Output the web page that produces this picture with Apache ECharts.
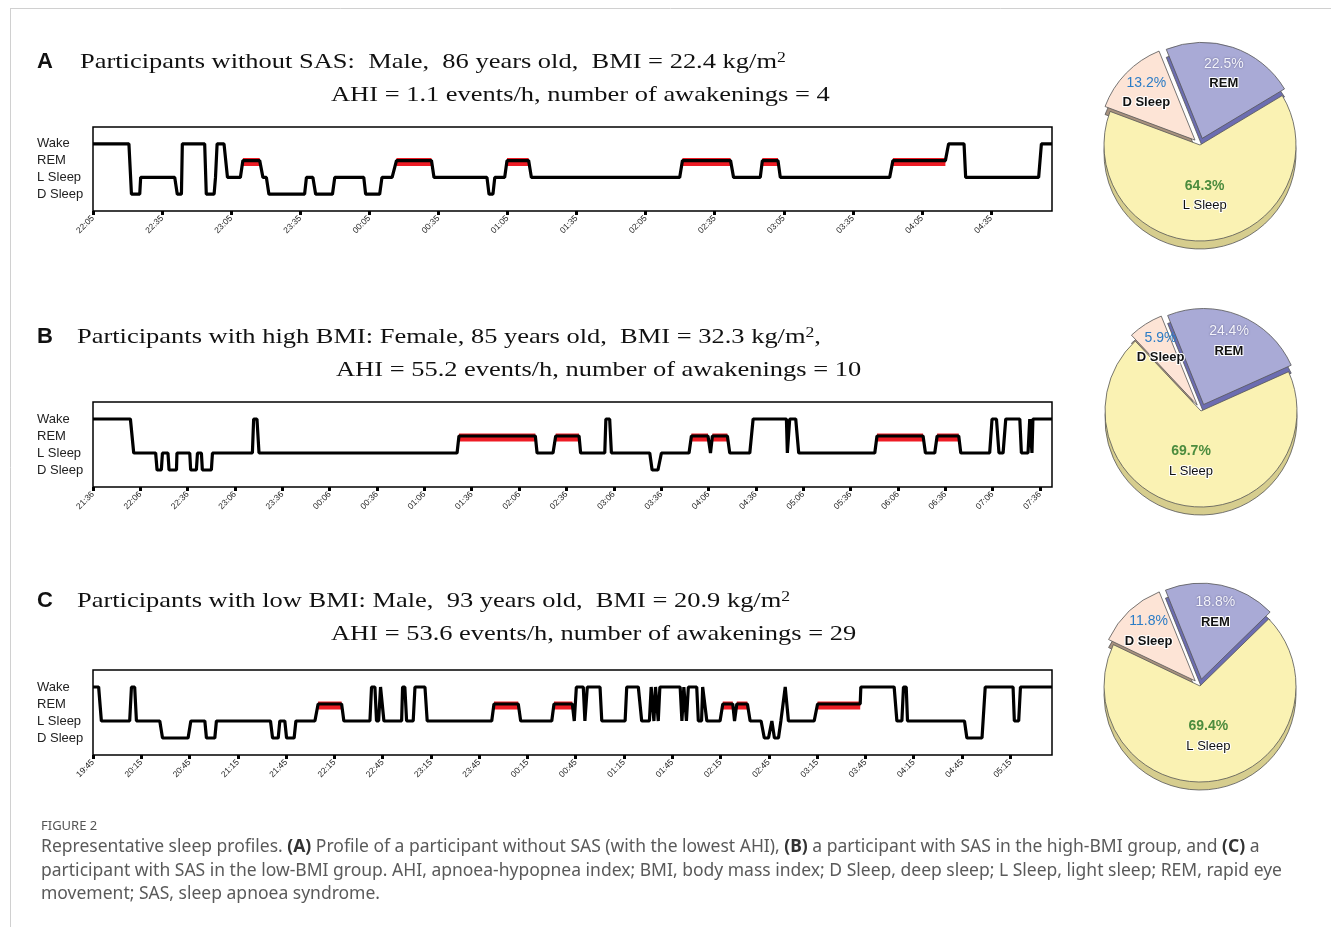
<!DOCTYPE html>
<html><head><meta charset="utf-8">
<script src="https://cdn.jsdelivr.net/npm/echarts@6/dist/echarts.min.js"></script>
<style>html,body{margin:0;padding:0;background:#fff}#c{width:1331px;height:927px}</style>
</head><body><div id="c"></div>
<script>
// ---------- DATA ----------
const stageNames = ['D Sleep', 'L Sleep', 'REM', 'Wake']; // 0,1,2,3

// Hypnograms: [minutes from first tick, stage]
const hypA = [[0,3],[15.6,3],[16.7,0],[20.3,0],[20.7,1],[35.5,1],[36.6,0],[38.4,0],[38.8,3],[48.5,3],[49.2,0],[52.6,0],[53.2,1],[53.9,3],[56.9,3],[58.4,1],[64,1],[65.1,2],[72.4,2],[73.8,1],[75.3,1],[76.4,0],[91.9,0],[92.7,1],[95.5,1],[96.7,0],[104,0],[105,1],[117.6,1],[118.4,0],[124.5,0],[125.5,1],[129.9,1],[131.8,2],[147,2],[148.1,1],[171.1,1],[172,0],[173.7,0],[174.5,1],[178.8,1],[179.8,2],[189.2,2],[190.4,1],[254.8,1],[256,2],[276.9,2],[278.2,1],[289.8,1],[290.7,2],[297.5,2],[298.5,1],[346,1],[347.4,2],[370.2,2],[371.6,3],[378.3,3],[379,1],[410.7,1],[411.9,3],[416.5,3]];
const hypB = [[0,3],[23.7,3],[25.8,1],[39.7,1],[40.6,0],[43.3,0],[44,1],[47.5,1],[48.2,0],[52.9,0],[53.2,1],[61.3,1],[61.9,0],[65.5,0],[66.2,1],[68.7,1],[69.3,0],[75,0],[75.7,1],[101,1],[101.8,3],[103.9,3],[105.2,1],[230.7,1],[231.9,2],[280.3,2],[281.4,1],[291.5,1],[293.2,2],[308,2],[309,1],[324.3,1],[325,3],[327.4,3],[328.5,1],[352.8,1],[354.3,0],[358,0],[360.2,1],[377.7,1],[379.2,2],[389.7,2],[391.3,1],[392.5,2],[402,2],[403.5,1],[416.2,1],[418.3,3],[439.4,3],[440,1],[441.5,3],[445.3,3],[447.2,1],[495.4,1],[496.8,2],[526,2],[527.5,1],[533.4,1],[534.9,2],[548.6,2],[549.9,1],[568.2,1],[569.7,3],[572.5,3],[574.1,1],[576.7,1],[578.4,3],[587.3,3],[588.3,1],[592.5,1],[593.6,3],[594.4,3],[595,1],[595.6,3],[607.7,3]];
const hypC = [[0,3],[3.5,3],[5.2,1],[22.8,1],[23.9,3],[25.9,3],[27,1],[41.5,1],[43.2,0],[59.1,0],[60.8,1],[69.5,1],[70.5,0],[75.7,0],[76.7,1],[110.3,1],[111.6,0],[115.1,0],[116.1,1],[119.2,1],[120.3,0],[125,0],[126.1,1],[137.9,1],[139.9,2],[154.5,2],[155.9,1],[172.1,1],[173.1,3],[175.2,3],[176.2,1],[177.5,1],[178.7,3],[179.7,3],[180.8,1],[191.8,1],[192.4,3],[193.8,3],[194.9,1],[199,1],[200.1,3],[206.3,3],[207.7,1],[247.8,1],[249.2,2],[264.3,2],[265.8,1],[285.1,1],[286.5,2],[297.9,2],[299.1,1],[300.4,3],[304.7,3],[305.7,1],[307.2,3],[315.1,3],[316.2,1],[330.7,1],[331.7,3],[338.9,3],[341,1],[345.8,1],[346.9,3],[347.6,3],[348.6,1],[349.6,3],[350.3,3],[351.3,1],[352.3,3],[364.9,3],[366,1],[367.2,3],[367.8,3],[368.8,1],[370,3],[375.2,3],[376.2,1],[378.2,1],[378.9,3],[379.8,3],[381.5,1],[389.7,1],[391.4,2],[397.6,2],[398.7,1],[400.1,2],[406.7,2],[408.4,1],[415.2,1],[417.2,0],[419.8,0],[421.9,1],[423.5,0],[426,0],[427.5,1],[430.2,3],[431.2,3],[432.2,1],[448.2,1],[450.3,2],[476.8,2],[477.2,3],[497.9,3],[499.6,1],[502.7,1],[503.7,3],[505.4,3],[506.2,1],[541.6,1],[543.1,0],[552.5,0],[554.5,3],[571.8,3],[572.6,1],[575.3,1],[576.4,3],[596,3]];

// Recording end (minutes) = right edge of each plot
const endA = 416.5, endB = 607.7, endC = 596;

// Tick labels (every 30 min)
const ticksA = ['22:05','22:35','23:05','23:35','00:05','00:35','01:05','01:35','02:05','02:35','03:05','03:35','04:05','04:35'];
const ticksB = ['21:36','22:06','22:36','23:06','23:36','00:06','00:36','01:06','01:36','02:06','02:36','03:06','03:36','04:06','04:36','05:06','05:36','06:06','06:36','07:06','07:36'];
const ticksC = ['19:45','20:15','20:45','21:15','21:45','22:15','22:45','23:15','23:45','00:15','00:45','01:15','01:45','02:15','02:45','03:15','03:45','04:15','04:45','05:15'];

// Pie values (%), order: REM, L Sleep, D Sleep
const pieNames = ['REM', 'L Sleep', 'D Sleep'];
const pieA = [22.5, 64.3, 13.2];
const pieB = [24.4, 69.7, 5.9];
const pieC = [18.8, 69.4, 11.8];

// Titles
const titleA1 = 'Participants without SAS:  Male,  86 years old,  BMI = 22.4 kg/m';
const titleA2 = 'AHI = 1.1 events/h, number of awakenings = 4';
const titleB1 = 'Participants with high BMI: Female, 85 years old,  BMI = 32.3 kg/m';
const titleB2 = 'AHI = 55.2 events/h, number of awakenings = 10';
const titleC1 = 'Participants with low BMI: Male,  93 years old,  BMI = 20.9 kg/m';
const titleC2 = 'AHI = 53.6 events/h, number of awakenings = 29';

// ---------- CHART ----------
const chart = echarts.init(document.getElementById('c'), null, {renderer: 'canvas', width: 1331, height: 927});

const grids = [
  {left: 93, top: 127, width: 959, height: 84},
  {left: 93, top: 402, width: 959, height: 85},
  {left: 93, top: 670, width: 959, height: 85}
].map(g => Object.assign(g, {show: true, borderColor: '#000', borderWidth: 1.5, backgroundColor: '#fff'}));

function xAx(i, ticks, end) {
  const vals = ticks.map((_, k) => k * 30);
  return {
    type: 'value', gridIndex: i, min: 0, max: end, interval: 30, position: 'bottom',
    axisLine: {show: false, onZero: false}, splitLine: {show: false},
    axisTick: {show: true, customValues: vals, length: 4, lineStyle: {color: '#000', width: 3}},
    axisLabel: {customValues: vals, formatter: v => ticks[Math.round(v / 30)] || '', rotate: 45,
      fontSize: 8.5, color: '#222', margin: 6, fontFamily: 'Liberation Sans'}
  };
}
function yAx(i) {
  return {
    type: 'value', gridIndex: i, min: -1, max: 4, interval: 1,
    axisLine: {show: false, onZero: false}, axisTick: {show: false}, splitLine: {show: false},
    axisLabel: {customValues: [0, 1, 2, 3], formatter: v => stageNames[v], align: 'left', margin: 56,
      fontSize: 13, color: '#222', fontFamily: 'Liberation Sans', padding: [5, 0, 0, 0]}
  };
}
function hypSeries(i, data) {
  return [
    {type: 'line', xAxisIndex: i, yAxisIndex: i, data: data.map(p => p[1] === 2 ? p : [p[0], '-']),
      symbol: 'none', z: 2, silent: true, connectNulls: false,
      lineStyle: {color: '#ee1c25', width: 5, shadowColor: '#ee1c25', shadowOffsetY: 3, shadowBlur: 0}},
    {type: 'line', xAxisIndex: i, yAxisIndex: i, data: data, symbol: 'none', z: 3, silent: true,
      lineStyle: {color: '#000', width: 3.2}}
  ];
}

const topColors = ['#a9aad6', '#faf2b3', '#fde4d6'];
const sideColors = ['#6c6db1', '#d6cd8e', '#a8927f'];
const R = 96;
function pieSeries(cx, cy, vals) {
  const base = {type: 'pie', startAngle: 112, clockwise: true, selectedMode: 'multiple', selectedOffset: 7,
    animation: false, silent: true, avoidLabelOverlap: false, labelLine: {show: false}};
  const side = Object.assign({}, base, {
    center: [cx, cy + 8], radius: [0, R], z: 4,
    itemStyle: {borderColor: '#555', borderWidth: 0.8},
    label: {show: false},
    data: pieNames.map((n, k) => ({name: n, value: vals[k], selected: n !== 'L Sleep', itemStyle: {color: sideColors[k]}}))
  });
  const pctStyle = {
    'REM': {color: '#f4f4fc', fontSize: 14, textShadowColor: 'rgba(50,50,90,0.6)', textShadowBlur: 2},
    'L Sleep': {color: '#4c8c3e', fontSize: 14, fontWeight: 'bold'},
    'D Sleep': {color: '#2b7cc6', fontSize: 14}
  };
  function lab(n, k) {
    return {show: true, position: 'inside', fontFamily: 'Liberation Sans',
      formatter: '{p|' + vals[k].toFixed(1) + '%}\n{n|' + n + '}',
      rich: {
        p: Object.assign({fontFamily: 'Liberation Sans', lineHeight: 20, align: 'center'}, pctStyle[n]),
        n: {fontFamily: 'Liberation Sans', fontSize: 13, lineHeight: 20, color: '#111', align: 'center',
          fontWeight: n === 'L Sleep' ? 'normal' : 'bold', textBorderColor: '#fff', textBorderWidth: 2}
      }};
  }
  const top = Object.assign({}, base, {
    center: [cx, cy], radius: [0, R], z: 5,
    itemStyle: {borderColor: '#555', borderWidth: 0.8},
    data: pieNames.map((n, k) => ({name: n, value: vals[k], selected: n !== 'L Sleep',
      itemStyle: {color: topColors[k]}, label: n === 'L Sleep' ? lab(n, k) : {show: false}}))
  });
  const labels = Object.assign({}, base, {
    center: [cx, cy], radius: [R * 0.5, R], z: 6, selectedMode: false,
    itemStyle: {color: 'rgba(0,0,0,0)', borderWidth: 0},
    data: pieNames.map((n, k) => ({name: n, value: vals[k],
      label: n === 'L Sleep' ? {show: false} : lab(n, k)}))
  });
  return [side, top, labels];
}

const serif = '"Liberation Serif", "Times New Roman", serif';
function titleLine(x, y, text, sup) {
  return {type: 'text', x: x, y: y, scaleX: 1.26, z: 10,
    style: {text: '{m|' + text + '}' + (sup ? '{s|2}' + (sup === ',' ? '{m|,}' : '') : ''),
      verticalAlign: 'middle', align: 'left',
      rich: {m: {fontSize: 21, fontFamily: serif, fill: '#111'},
             s: {fontSize: 14, fontFamily: serif, fill: '#111', verticalAlign: 'top'}}}};
}
function letter(x, y, t) {
  return {type: 'text', x: x, y: y, z: 10,
    style: {text: t, font: 'bold 22px "Liberation Sans"', fill: '#111', verticalAlign: 'middle', align: 'left'}};
}
const capFont = '"Noto Sans", "Open Sans", sans-serif';
function capLine(y, parts) {
  let s = parts.map(p => p[1] ? '{b|' + p[0] + '}' : '{t|' + p[0] + '}').join('');
  return {type: 'text', x: 41, y: y, z: 10,
    style: {text: s, verticalAlign: 'middle', align: 'left',
      rich: {t: {fontSize: 17.5, fontFamily: capFont, fill: '#5a5a5a'},
             b: {fontSize: 17.5, fontFamily: capFont, fill: '#333', fontWeight: 'bold'}}}};
}

const option = {
  backgroundColor: '#fff',
  animation: false,
  grid: grids,
  xAxis: [xAx(0, ticksA, endA), xAx(1, ticksB, endB), xAx(2, ticksC, endC)],
  yAxis: [yAx(0), yAx(1), yAx(2)],
  series: [].concat(
    hypSeries(0, hypA), hypSeries(1, hypB), hypSeries(2, hypC),
    pieSeries(1200, 145, pieA), pieSeries(1201, 411, pieB), pieSeries(1200, 686, pieC)
  ),
  graphic: [
    {type: 'line', shape: {x1: 10, y1: 8.5, x2: 1331, y2: 8.5}, style: {stroke: '#d0d0d0', lineWidth: 1}},
    {type: 'line', shape: {x1: 10.5, y1: 8, x2: 10.5, y2: 927}, style: {stroke: '#d0d0d0', lineWidth: 1}},
    letter(37, 62, 'A'), titleLine(80, 62, titleA1, true), titleLine(331, 95, titleA2),
    letter(37, 337, 'B'), titleLine(77, 337, titleB1, ','), titleLine(336, 370, titleB2),
    letter(37, 601, 'C'), titleLine(77, 601, titleC1, true), titleLine(331, 634, titleC2),
    {type: 'text', x: 41, y: 826, z: 10, style: {text: 'FIGURE 2', font: '13px ' + capFont, fill: '#555', verticalAlign: 'middle', align: 'left'}},
    capLine(847, [['Representative sleep profiles. '], ['(A)', 1], [' Profile of a participant without SAS (with the lowest AHI), '], ['(B)', 1], [' a participant with SAS in the high-BMI group, and '], ['(C)', 1], [' a']]),
    capLine(871, [['participant with SAS in the low-BMI group. AHI, apnoea-hypopnea index; BMI, body mass index; D Sleep, deep sleep; L Sleep, light sleep; REM, rapid eye']]),
    capLine(894, [['movement; SAS, sleep apnoea syndrome.']])
  ]
};
chart.setOption(option);
</script>
</body></html>
